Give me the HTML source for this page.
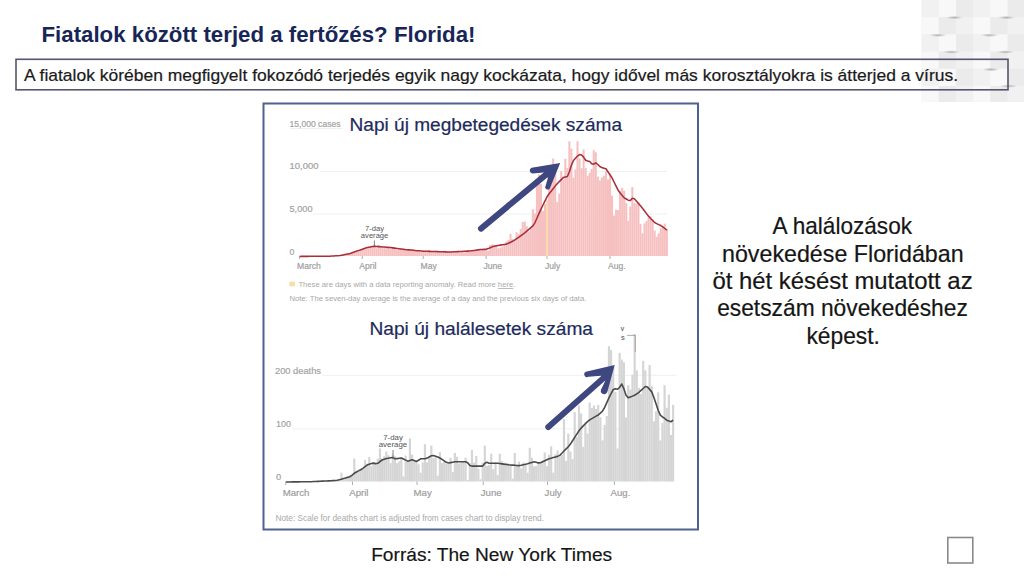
<!DOCTYPE html>
<html><head><meta charset="utf-8">
<style>
html,body{margin:0;padding:0;background:#fff;}
body{width:1024px;height:576px;position:relative;overflow:hidden;}
svg{position:absolute;left:0;top:0;}
</style></head>
<body>
<svg width="1024" height="576" viewBox="0 0 1024 576" font-family="Liberation Sans, sans-serif">
<defs>
<radialGradient id="shd"><stop offset="0" stop-color="#a8a8a8" stop-opacity="0.95"/><stop offset="0.6" stop-color="#c0c0c0" stop-opacity="0.5"/><stop offset="1" stop-color="#d0d0d0" stop-opacity="0"/></radialGradient>
</defs>
<!-- top-right pattern -->
<g id="pattern">
<rect x="921.6" y="0" width="102.39999999999998" height="101.8" fill="#f0f0f0"/>
<rect x="921.6" y="0.0" width="17.25" height="17.20" fill="#f1f1f1"/>
<rect x="938.8" y="0.0" width="17.25" height="17.20" fill="#f8f8f8"/>
<rect x="956.0" y="0.0" width="17.25" height="17.20" fill="#ebebeb"/>
<rect x="973.2" y="0.0" width="17.25" height="17.20" fill="#f1f1f1"/>
<rect x="990.4" y="0.0" width="17.25" height="17.20" fill="#f8f8f8"/>
<rect x="1007.6" y="0.0" width="17.25" height="17.20" fill="#ebebeb"/>
<rect x="921.6" y="17.2" width="17.25" height="17.20" fill="#f8f8f8"/>
<rect x="938.8" y="17.2" width="17.25" height="17.20" fill="#ebebeb"/>
<rect x="956.0" y="17.2" width="17.25" height="17.20" fill="#f1f1f1"/>
<rect x="973.2" y="17.2" width="17.25" height="17.20" fill="#f8f8f8"/>
<rect x="990.4" y="17.2" width="17.25" height="17.20" fill="#ebebeb"/>
<rect x="1007.6" y="17.2" width="17.25" height="17.20" fill="#f1f1f1"/>
<rect x="921.6" y="34.4" width="17.25" height="17.20" fill="#f1f1f1"/>
<rect x="938.8" y="34.4" width="17.25" height="17.20" fill="#f8f8f8"/>
<rect x="956.0" y="34.4" width="17.25" height="17.20" fill="#ebebeb"/>
<rect x="973.2" y="34.4" width="17.25" height="17.20" fill="#f1f1f1"/>
<rect x="990.4" y="34.4" width="17.25" height="17.20" fill="#f8f8f8"/>
<rect x="1007.6" y="34.4" width="17.25" height="17.20" fill="#ebebeb"/>
<rect x="921.6" y="51.6" width="17.25" height="17.20" fill="#f8f8f8"/>
<rect x="938.8" y="51.6" width="17.25" height="17.20" fill="#ebebeb"/>
<rect x="956.0" y="51.6" width="17.25" height="17.20" fill="#f1f1f1"/>
<rect x="973.2" y="51.6" width="17.25" height="17.20" fill="#f8f8f8"/>
<rect x="990.4" y="51.6" width="17.25" height="17.20" fill="#ebebeb"/>
<rect x="1007.6" y="51.6" width="17.25" height="17.20" fill="#f1f1f1"/>
<rect x="921.6" y="68.8" width="17.25" height="17.20" fill="#f1f1f1"/>
<rect x="938.8" y="68.8" width="17.25" height="17.20" fill="#f8f8f8"/>
<rect x="956.0" y="68.8" width="17.25" height="17.20" fill="#ebebeb"/>
<rect x="973.2" y="68.8" width="17.25" height="17.20" fill="#f1f1f1"/>
<rect x="990.4" y="68.8" width="17.25" height="17.20" fill="#f8f8f8"/>
<rect x="1007.6" y="68.8" width="17.25" height="17.20" fill="#ebebeb"/>
<rect x="921.6" y="86.0" width="17.25" height="15.80" fill="#f8f8f8"/>
<rect x="938.8" y="86.0" width="17.25" height="15.80" fill="#ebebeb"/>
<rect x="956.0" y="86.0" width="17.25" height="15.80" fill="#f1f1f1"/>
<rect x="973.2" y="86.0" width="17.25" height="15.80" fill="#f8f8f8"/>
<rect x="990.4" y="86.0" width="17.25" height="15.80" fill="#ebebeb"/>
<rect x="1007.6" y="86.0" width="17.25" height="15.80" fill="#f1f1f1"/>
<ellipse cx="954.5" cy="17.6" rx="9" ry="1.8" fill="url(#shd)"/>
<ellipse cx="1006.5" cy="17.6" rx="9" ry="1.8" fill="url(#shd)"/>
<ellipse cx="938" cy="35.2" rx="9" ry="1.8" fill="url(#shd)"/>
<ellipse cx="989.5" cy="35.2" rx="9" ry="1.8" fill="url(#shd)"/>
<ellipse cx="951.3" cy="52" rx="9" ry="1.8" fill="url(#shd)"/>
<ellipse cx="1005.5" cy="52" rx="9" ry="1.8" fill="url(#shd)"/>
<ellipse cx="991" cy="69.5" rx="9" ry="1.8" fill="url(#shd)"/>
<ellipse cx="1008.6" cy="86.1" rx="9" ry="1.8" fill="url(#shd)"/>
</g>
<!-- title -->
<text x="41.5" y="42" font-size="22" font-weight="bold" fill="#172657" textLength="434" lengthAdjust="spacingAndGlyphs">Fiatalok között terjed a fertőzés? Florida!</text>
<!-- subtitle box -->
<rect x="16" y="59.3" width="992" height="30.5" fill="none" stroke="#55556e" stroke-width="1.6"/>
<text x="24" y="81" font-size="17" fill="#1a1a1a" stroke="#1a1a1a" stroke-width="0.2" textLength="934" lengthAdjust="spacingAndGlyphs">A fiatalok körében megfigyelt fokozódó terjedés egyik nagy kockázata, hogy idővel más korosztályokra is átterjed a vírus.</text>

<!-- chart frame -->
<rect x="263.5" y="103.5" width="434.5" height="426" fill="#fff" stroke="#4d6290" stroke-width="2"/>

<!-- chart 1 -->
<g id="c1">
<g stroke="#ececec" stroke-width="0.8">
<line x1="319.5" y1="171.5" x2="667" y2="171.5"/>
<line x1="313.5" y1="214" x2="667" y2="214"/>
<line x1="290" y1="128.5" x2="343" y2="128.5"/>
</g>
<g font-size="8.6" fill="#a0a0a0" stroke="#a8a8a8" stroke-width="0.2">
<text x="289.5" y="126.5" textLength="51" lengthAdjust="spacingAndGlyphs">15,000 cases</text>
<text x="289.5" y="169.3" textLength="29" lengthAdjust="spacingAndGlyphs">10,000</text>
<text x="289.5" y="212" textLength="23" lengthAdjust="spacingAndGlyphs">5,000</text>
<text x="289.5" y="255" >0</text>
</g>
<rect x="334.92" y="255.84" width="2.05" height="0.16" fill="#f6c0c0"/>
<rect x="336.95" y="255.74" width="2.05" height="0.26" fill="#f6c0c0"/>
<rect x="338.98" y="255.55" width="2.05" height="0.45" fill="#f6c0c0"/>
<rect x="341.01" y="255.20" width="2.05" height="0.80" fill="#f6c0c0"/>
<rect x="343.04" y="254.64" width="2.05" height="1.36" fill="#f6c0c0"/>
<rect x="345.07" y="254.01" width="2.05" height="1.99" fill="#f6c0c0"/>
<rect x="347.10" y="253.74" width="2.05" height="2.26" fill="#f6c0c0"/>
<rect x="349.13" y="253.42" width="2.05" height="2.58" fill="#f6c0c0"/>
<rect x="351.16" y="252.45" width="2.05" height="3.55" fill="#f6c0c0"/>
<rect x="353.19" y="252.33" width="2.05" height="3.67" fill="#f6c0c0"/>
<rect x="355.22" y="251.42" width="2.05" height="4.58" fill="#f6c0c0"/>
<rect x="357.25" y="250.98" width="2.05" height="5.02" fill="#f6c0c0"/>
<rect x="359.28" y="250.05" width="2.05" height="5.95" fill="#f6c0c0"/>
<rect x="361.31" y="249.61" width="2.05" height="6.39" fill="#f6c0c0"/>
<rect x="363.34" y="248.70" width="2.05" height="7.30" fill="#f6c0c0"/>
<rect x="365.37" y="248.22" width="2.05" height="7.78" fill="#f6c0c0"/>
<rect x="367.40" y="247.14" width="2.05" height="8.86" fill="#f6c0c0"/>
<rect x="369.43" y="246.82" width="2.05" height="9.18" fill="#f6c0c0"/>
<rect x="371.46" y="246.22" width="2.05" height="9.78" fill="#f6c0c0"/>
<rect x="373.49" y="244.71" width="2.05" height="11.29" fill="#f6c0c0"/>
<rect x="375.52" y="248.26" width="2.05" height="7.74" fill="#f6c0c0"/>
<rect x="377.55" y="245.19" width="2.05" height="10.81" fill="#f6c0c0"/>
<rect x="379.58" y="247.06" width="2.05" height="8.94" fill="#f6c0c0"/>
<rect x="381.61" y="248.29" width="2.05" height="7.71" fill="#f6c0c0"/>
<rect x="383.64" y="247.28" width="2.05" height="8.72" fill="#f6c0c0"/>
<rect x="385.67" y="247.16" width="2.05" height="8.84" fill="#f6c0c0"/>
<rect x="387.70" y="246.30" width="2.05" height="9.70" fill="#f6c0c0"/>
<rect x="389.73" y="248.67" width="2.05" height="7.33" fill="#f6c0c0"/>
<rect x="391.76" y="247.66" width="2.05" height="8.34" fill="#f6c0c0"/>
<rect x="393.79" y="248.03" width="2.05" height="7.97" fill="#f6c0c0"/>
<rect x="395.82" y="249.95" width="2.05" height="6.05" fill="#f6c0c0"/>
<rect x="397.85" y="249.72" width="2.05" height="6.28" fill="#f6c0c0"/>
<rect x="399.88" y="248.45" width="2.05" height="7.55" fill="#f6c0c0"/>
<rect x="401.91" y="248.66" width="2.05" height="7.34" fill="#f6c0c0"/>
<rect x="403.94" y="248.65" width="2.05" height="7.35" fill="#f6c0c0"/>
<rect x="405.97" y="249.29" width="2.05" height="6.71" fill="#f6c0c0"/>
<rect x="408.00" y="249.59" width="2.05" height="6.41" fill="#f6c0c0"/>
<rect x="410.03" y="249.99" width="2.05" height="6.01" fill="#f6c0c0"/>
<rect x="412.06" y="249.44" width="2.05" height="6.56" fill="#f6c0c0"/>
<rect x="414.09" y="251.03" width="2.05" height="4.97" fill="#f6c0c0"/>
<rect x="416.12" y="250.75" width="2.05" height="5.25" fill="#f6c0c0"/>
<rect x="418.15" y="250.62" width="2.05" height="5.38" fill="#f6c0c0"/>
<rect x="420.18" y="251.98" width="2.05" height="4.02" fill="#f6c0c0"/>
<rect x="422.21" y="250.46" width="2.05" height="5.54" fill="#f6c0c0"/>
<rect x="424.24" y="251.72" width="2.05" height="4.28" fill="#f6c0c0"/>
<rect x="426.27" y="251.37" width="2.05" height="4.63" fill="#f6c0c0"/>
<rect x="428.30" y="250.20" width="2.05" height="5.80" fill="#f6c0c0"/>
<rect x="430.33" y="251.90" width="2.05" height="4.10" fill="#f6c0c0"/>
<rect x="432.36" y="251.80" width="2.05" height="4.20" fill="#f6c0c0"/>
<rect x="434.39" y="250.74" width="2.05" height="5.26" fill="#f6c0c0"/>
<rect x="436.42" y="252.20" width="2.05" height="3.80" fill="#f6c0c0"/>
<rect x="438.45" y="251.91" width="2.05" height="4.09" fill="#f6c0c0"/>
<rect x="440.48" y="251.49" width="2.05" height="4.51" fill="#f6c0c0"/>
<rect x="442.51" y="251.58" width="2.05" height="4.42" fill="#f6c0c0"/>
<rect x="444.54" y="251.58" width="2.05" height="4.42" fill="#f6c0c0"/>
<rect x="446.57" y="251.75" width="2.05" height="4.25" fill="#f6c0c0"/>
<rect x="448.60" y="251.34" width="2.05" height="4.66" fill="#f6c0c0"/>
<rect x="450.63" y="251.42" width="2.05" height="4.58" fill="#f6c0c0"/>
<rect x="452.66" y="251.52" width="2.05" height="4.48" fill="#f6c0c0"/>
<rect x="454.69" y="252.07" width="2.05" height="3.93" fill="#f6c0c0"/>
<rect x="456.72" y="251.99" width="2.05" height="4.01" fill="#f6c0c0"/>
<rect x="458.75" y="252.54" width="2.05" height="3.46" fill="#f6c0c0"/>
<rect x="460.78" y="251.03" width="2.05" height="4.97" fill="#f6c0c0"/>
<rect x="462.81" y="252.33" width="2.05" height="3.67" fill="#f6c0c0"/>
<rect x="464.84" y="250.70" width="2.05" height="5.30" fill="#f6c0c0"/>
<rect x="466.87" y="250.02" width="2.05" height="5.98" fill="#f6c0c0"/>
<rect x="468.90" y="251.64" width="2.05" height="4.36" fill="#f6c0c0"/>
<rect x="470.93" y="251.16" width="2.05" height="4.84" fill="#f6c0c0"/>
<rect x="472.96" y="250.76" width="2.05" height="5.24" fill="#f6c0c0"/>
<rect x="474.99" y="249.58" width="2.05" height="6.42" fill="#f6c0c0"/>
<rect x="477.02" y="250.51" width="2.05" height="5.49" fill="#f6c0c0"/>
<rect x="479.05" y="249.70" width="2.05" height="6.30" fill="#f6c0c0"/>
<rect x="481.08" y="249.89" width="2.05" height="6.11" fill="#f6c0c0"/>
<rect x="483.11" y="249.56" width="2.05" height="6.44" fill="#f6c0c0"/>
<rect x="485.14" y="250.05" width="2.05" height="5.95" fill="#f6c0c0"/>
<rect x="487.17" y="250.90" width="2.05" height="5.10" fill="#f6c0c0"/>
<rect x="489.20" y="244.95" width="2.05" height="11.05" fill="#f6c0c0"/>
<rect x="491.23" y="244.10" width="2.05" height="11.90" fill="#f6c0c0"/>
<rect x="493.26" y="244.95" width="2.05" height="11.05" fill="#f6c0c0"/>
<rect x="495.29" y="244.95" width="2.05" height="11.05" fill="#f6c0c0"/>
<rect x="497.32" y="248.35" width="2.05" height="7.65" fill="#f6c0c0"/>
<rect x="499.35" y="247.50" width="2.05" height="8.50" fill="#f6c0c0"/>
<rect x="501.38" y="246.65" width="2.05" height="9.35" fill="#f6c0c0"/>
<rect x="503.41" y="244.10" width="2.05" height="11.90" fill="#f6c0c0"/>
<rect x="505.44" y="241.55" width="2.05" height="14.45" fill="#f6c0c0"/>
<rect x="507.47" y="239.85" width="2.05" height="16.15" fill="#f6c0c0"/>
<rect x="509.50" y="233.90" width="2.05" height="22.10" fill="#f6c0c0"/>
<rect x="511.53" y="239.00" width="2.05" height="17.00" fill="#f6c0c0"/>
<rect x="513.56" y="241.12" width="2.05" height="14.88" fill="#f6c0c0"/>
<rect x="515.59" y="232.20" width="2.05" height="23.80" fill="#f6c0c0"/>
<rect x="517.62" y="233.90" width="2.05" height="22.10" fill="#f6c0c0"/>
<rect x="519.65" y="228.80" width="2.05" height="27.20" fill="#f6c0c0"/>
<rect x="521.68" y="222.00" width="2.05" height="34.00" fill="#f6c0c0"/>
<rect x="523.71" y="221.57" width="2.05" height="34.43" fill="#f6c0c0"/>
<rect x="525.74" y="226.25" width="2.05" height="29.75" fill="#f6c0c0"/>
<rect x="527.77" y="231.35" width="2.05" height="24.65" fill="#f6c0c0"/>
<rect x="529.80" y="227.95" width="2.05" height="28.05" fill="#f6c0c0"/>
<rect x="531.83" y="209.25" width="2.05" height="46.75" fill="#f6c0c0"/>
<rect x="533.86" y="213.50" width="2.05" height="42.50" fill="#f6c0c0"/>
<rect x="535.89" y="180.35" width="2.05" height="75.65" fill="#f6c0c0"/>
<rect x="537.92" y="174.40" width="2.05" height="81.60" fill="#f6c0c0"/>
<rect x="539.95" y="183.75" width="2.05" height="72.25" fill="#f6c0c0"/>
<rect x="541.98" y="210.95" width="2.05" height="45.05" fill="#f6c0c0"/>
<rect x="544.01" y="204.15" width="2.05" height="51.85" fill="#f6c0c0"/>
<rect x="546.04" y="200.21" width="2.05" height="55.79" fill="#f8dcb0"/>
<rect x="548.07" y="170.07" width="2.05" height="85.93" fill="#f6c0c0"/>
<rect x="550.10" y="175.35" width="2.05" height="80.65" fill="#f6c0c0"/>
<rect x="552.13" y="158.61" width="2.05" height="97.39" fill="#f6c0c0"/>
<rect x="554.16" y="170.50" width="2.05" height="85.50" fill="#f6c0c0"/>
<rect x="556.19" y="202.14" width="2.05" height="53.86" fill="#f6c0c0"/>
<rect x="558.22" y="193.55" width="2.05" height="62.45" fill="#f6c0c0"/>
<rect x="560.25" y="171.09" width="2.05" height="84.91" fill="#f6c0c0"/>
<rect x="562.28" y="180.05" width="2.05" height="75.95" fill="#f6c0c0"/>
<rect x="564.31" y="158.82" width="2.05" height="97.18" fill="#f6c0c0"/>
<rect x="566.34" y="167.94" width="2.05" height="88.06" fill="#f6c0c0"/>
<rect x="568.37" y="141.25" width="2.05" height="114.75" fill="#f6c0c0"/>
<rect x="570.40" y="148.70" width="2.05" height="107.30" fill="#f6c0c0"/>
<rect x="572.43" y="177.85" width="2.05" height="78.15" fill="#f6c0c0"/>
<rect x="574.46" y="169.46" width="2.05" height="86.54" fill="#f6c0c0"/>
<rect x="576.49" y="141.25" width="2.05" height="114.75" fill="#f6c0c0"/>
<rect x="578.52" y="158.54" width="2.05" height="97.46" fill="#f6c0c0"/>
<rect x="580.55" y="168.21" width="2.05" height="87.79" fill="#f6c0c0"/>
<rect x="582.58" y="149.55" width="2.05" height="106.45" fill="#f6c0c0"/>
<rect x="584.61" y="168.05" width="2.05" height="87.95" fill="#f6c0c0"/>
<rect x="586.64" y="175.76" width="2.05" height="80.24" fill="#f6c0c0"/>
<rect x="588.67" y="172.83" width="2.05" height="83.17" fill="#f6c0c0"/>
<rect x="590.70" y="168.88" width="2.05" height="87.12" fill="#f6c0c0"/>
<rect x="592.73" y="150.23" width="2.05" height="105.77" fill="#f6c0c0"/>
<rect x="594.76" y="152.31" width="2.05" height="103.69" fill="#f6c0c0"/>
<rect x="596.79" y="176.58" width="2.05" height="79.42" fill="#f6c0c0"/>
<rect x="598.82" y="180.42" width="2.05" height="75.58" fill="#f6c0c0"/>
<rect x="600.85" y="177.54" width="2.05" height="78.46" fill="#f6c0c0"/>
<rect x="602.88" y="175.71" width="2.05" height="80.29" fill="#f6c0c0"/>
<rect x="604.91" y="171.37" width="2.05" height="84.63" fill="#f6c0c0"/>
<rect x="606.94" y="179.44" width="2.05" height="76.56" fill="#f6c0c0"/>
<rect x="608.97" y="174.04" width="2.05" height="81.96" fill="#f6c0c0"/>
<rect x="611.00" y="195.62" width="2.05" height="60.38" fill="#f6c0c0"/>
<rect x="613.03" y="215.61" width="2.05" height="40.39" fill="#f6c0c0"/>
<rect x="615.06" y="209.71" width="2.05" height="46.29" fill="#f6c0c0"/>
<rect x="617.09" y="210.02" width="2.05" height="45.98" fill="#f6c0c0"/>
<rect x="619.12" y="190.97" width="2.05" height="65.03" fill="#f6c0c0"/>
<rect x="621.15" y="188.00" width="2.05" height="68.00" fill="#f6c0c0"/>
<rect x="623.18" y="190.67" width="2.05" height="65.33" fill="#f6c0c0"/>
<rect x="625.21" y="203.05" width="2.05" height="52.95" fill="#f6c0c0"/>
<rect x="627.24" y="220.68" width="2.05" height="35.32" fill="#f6c0c0"/>
<rect x="629.27" y="206.44" width="2.05" height="49.56" fill="#f6c0c0"/>
<rect x="631.30" y="187.07" width="2.05" height="68.93" fill="#f6c0c0"/>
<rect x="633.33" y="202.99" width="2.05" height="53.01" fill="#f6c0c0"/>
<rect x="635.36" y="203.74" width="2.05" height="52.26" fill="#f6c0c0"/>
<rect x="637.39" y="202.01" width="2.05" height="53.99" fill="#f6c0c0"/>
<rect x="639.42" y="223.88" width="2.05" height="32.12" fill="#f6c0c0"/>
<rect x="641.45" y="233.24" width="2.05" height="22.76" fill="#f6c0c0"/>
<rect x="643.48" y="223.38" width="2.05" height="32.62" fill="#f6c0c0"/>
<rect x="645.51" y="221.02" width="2.05" height="34.98" fill="#f6c0c0"/>
<rect x="647.54" y="217.28" width="2.05" height="38.72" fill="#f6c0c0"/>
<rect x="649.57" y="216.19" width="2.05" height="39.81" fill="#f6c0c0"/>
<rect x="651.60" y="219.36" width="2.05" height="36.64" fill="#f6c0c0"/>
<rect x="653.63" y="230.72" width="2.05" height="25.28" fill="#f6c0c0"/>
<rect x="655.66" y="236.81" width="2.05" height="19.19" fill="#f6c0c0"/>
<rect x="657.69" y="233.28" width="2.05" height="22.72" fill="#f6c0c0"/>
<rect x="659.72" y="228.21" width="2.05" height="27.79" fill="#f6c0c0"/>
<rect x="661.75" y="226.11" width="2.05" height="29.89" fill="#f6c0c0"/>
<rect x="663.78" y="223.57" width="2.05" height="32.43" fill="#f6c0c0"/>
<rect x="665.81" y="228.83" width="2.05" height="27.17" fill="#f6c0c0"/>
<path d="M299.40,256.40 L301.43,256.39 L303.46,256.37 L305.49,256.36 L307.52,256.35 L309.55,256.33 L311.58,256.32 L313.61,256.31 L315.64,256.29 L317.67,256.28 L319.70,256.27 L321.73,256.25 L323.76,256.24 L325.79,256.23 L327.82,256.21 L329.85,256.20 L331.88,256.09 L333.91,255.97 L335.94,255.84 L337.97,255.72 L340.00,255.60 L342.03,255.17 L344.06,254.75 L346.09,254.32 L348.12,253.89 L350.15,253.45 L352.18,252.74 L354.21,252.03 L356.24,251.32 L358.27,250.61 L360.30,249.90 L362.33,249.21 L364.36,248.53 L366.39,247.84 L368.42,247.23 L370.45,246.89 L372.48,246.55 L374.51,246.34 L376.54,246.49 L378.57,246.64 L380.60,246.80 L382.63,246.95 L384.66,247.10 L386.69,247.25 L388.72,247.40 L390.75,247.60 L392.78,247.87 L394.81,248.14 L396.84,248.41 L398.87,248.68 L400.90,248.95 L402.93,249.22 L404.96,249.49 L406.99,249.69 L409.02,249.88 L411.05,250.08 L413.08,250.27 L415.11,250.47 L417.14,250.66 L419.17,250.85 L421.20,251.05 L423.23,251.21 L425.26,251.27 L427.29,251.33 L429.32,251.39 L431.35,251.45 L433.38,251.51 L435.41,251.57 L437.44,251.63 L439.47,251.69 L441.50,251.75 L443.53,251.81 L445.56,251.87 L447.59,251.93 L449.62,251.99 L451.65,251.92 L453.68,251.82 L455.71,251.71 L457.74,251.61 L459.77,251.51 L461.80,251.41 L463.83,251.31 L465.86,251.21 L467.89,251.11 L469.92,251.00 L471.95,250.73 L473.98,250.44 L476.01,250.16 L478.04,249.87 L480.07,249.60 L482.10,249.48 L484.13,249.36 L486.16,249.24 L488.19,248.60 L490.22,247.72 L492.25,246.84 L494.28,246.17 L496.31,245.82 L498.34,245.48 L500.37,245.13 L502.40,244.78 L504.43,244.44 L506.46,244.09 L508.49,243.28 L510.52,242.29 L512.55,241.30 L514.58,240.18 L516.61,238.73 L518.64,237.27 L520.67,235.81 L522.70,234.35 L524.73,232.89 L526.76,231.16 L528.79,229.37 L530.82,227.59 L532.85,225.81 L534.88,222.81 L536.91,218.23 L538.94,213.65 L540.97,209.07 L543.00,204.97 L545.03,200.88 L547.06,196.79 L549.09,193.75 L551.12,191.21 L553.15,188.66 L555.18,186.11 L557.21,183.69 L559.24,181.66 L561.27,179.63 L563.30,177.60 L565.33,176.95 L567.36,176.46 L569.39,171.76 L571.42,165.13 L573.45,160.55 L575.48,158.30 L577.51,156.05 L579.54,154.54 L581.57,155.08 L583.60,157.14 L585.63,160.24 L587.66,160.95 L589.69,161.45 L591.72,163.70 L593.75,164.22 L595.78,162.85 L597.81,164.51 L599.84,166.54 L601.87,167.60 L603.90,168.19 L605.93,168.78 L607.96,171.71 L609.99,174.72 L612.02,177.85 L614.05,181.97 L616.08,186.09 L618.11,190.21 L620.14,193.00 L622.17,195.47 L624.20,197.82 L626.23,199.01 L628.26,200.20 L630.29,200.55 L632.32,198.28 L634.35,198.65 L636.38,201.05 L638.41,203.44 L640.44,205.83 L642.47,208.26 L644.50,210.94 L646.53,213.63 L648.56,216.32 L650.59,218.49 L652.62,220.52 L654.65,222.55 L656.68,223.58 L658.71,224.58 L660.74,225.57 L662.77,226.95 L664.80,228.51 L666.83,230.07" fill="none" stroke="#a82e3a" stroke-width="1.55" stroke-linejoin="round"/>
<g stroke="#999" stroke-width="0.8">
<line x1="299.4" y1="256" x2="299.4" y2="259"/>
<line x1="362.3" y1="256" x2="362.3" y2="259"/>
<line x1="423.2" y1="256" x2="423.2" y2="259"/>
<line x1="486.1" y1="256" x2="486.1" y2="259"/>
<line x1="547" y1="256" x2="547" y2="259"/>
<line x1="610" y1="256" x2="610" y2="259"/>
</g>
<g font-size="8.6" fill="#9a9a9a" stroke="#a4a4a4" stroke-width="0.2">
<text x="297" y="269">March</text>
<text x="359.3" y="269">April</text>
<text x="420.5" y="269">May</text>
<text x="483.4" y="269">June</text>
<text x="545" y="269">July</text>
<text x="608" y="269">Aug.</text>
</g>
<g font-size="7.6" fill="#555" text-anchor="middle">
<text x="374.6" y="231">7-day</text>
<text x="374.6" y="238.3">average</text>
</g>
<line x1="374.4" y1="240.5" x2="374.4" y2="246" stroke="#666" stroke-width="0.8"/>
<rect x="289.4" y="281.7" width="5.6" height="4.6" fill="#f5dfa6"/>
<text x="298.4" y="287" font-size="7.6" fill="#a8a8a8" textLength="217" lengthAdjust="spacingAndGlyphs">These are days with a data reporting anomaly. Read more <tspan text-decoration="underline">here</tspan>.</text>
<text x="289.4" y="301" font-size="7.6" fill="#a8a8a8" textLength="297" lengthAdjust="spacingAndGlyphs">Note: The seven-day average is the average of a day and the previous six days of data.</text>
</g>

<!-- chart 2 -->
<g id="c2">
<g stroke="#ececec" stroke-width="0.8">
<line x1="322" y1="375.3" x2="676" y2="375.3"/>
<line x1="292" y1="428.8" x2="676" y2="428.8"/>
</g>
<g font-size="9.4" fill="#a0a0a0" stroke="#a8a8a8" stroke-width="0.2">
<text x="275" y="373.8" textLength="46" lengthAdjust="spacingAndGlyphs">200 deaths</text>
<text x="276" y="426.6" textLength="15" lengthAdjust="spacingAndGlyphs">100</text>
<text x="276" y="480">0</text>
</g>
<rect x="318.96" y="481.27" width="2.16" height="0.23" fill="#d5d5d5"/>
<rect x="321.10" y="481.16" width="2.16" height="0.34" fill="#d5d5d5"/>
<rect x="323.24" y="481.06" width="2.16" height="0.44" fill="#d5d5d5"/>
<rect x="325.38" y="480.96" width="2.16" height="0.54" fill="#d5d5d5"/>
<rect x="327.52" y="481.06" width="2.16" height="0.44" fill="#d5d5d5"/>
<rect x="329.66" y="480.81" width="2.16" height="0.69" fill="#d5d5d5"/>
<rect x="331.80" y="480.65" width="2.16" height="0.85" fill="#d5d5d5"/>
<rect x="333.94" y="480.81" width="2.16" height="0.69" fill="#d5d5d5"/>
<rect x="336.08" y="480.45" width="2.16" height="1.05" fill="#d5d5d5"/>
<rect x="338.22" y="480.16" width="2.16" height="1.34" fill="#d5d5d5"/>
<rect x="340.36" y="472.70" width="2.16" height="8.80" fill="#d5d5d5"/>
<rect x="342.50" y="479.24" width="2.16" height="2.26" fill="#d5d5d5"/>
<rect x="344.64" y="477.82" width="2.16" height="3.68" fill="#d5d5d5"/>
<rect x="346.78" y="476.27" width="2.16" height="5.23" fill="#d5d5d5"/>
<rect x="348.92" y="475.49" width="2.16" height="6.01" fill="#d5d5d5"/>
<rect x="351.06" y="475.06" width="2.16" height="6.44" fill="#d5d5d5"/>
<rect x="353.20" y="458.60" width="2.16" height="22.90" fill="#d5d5d5"/>
<rect x="355.34" y="472.08" width="2.16" height="9.42" fill="#d5d5d5"/>
<rect x="357.48" y="471.60" width="2.16" height="9.90" fill="#d5d5d5"/>
<rect x="359.62" y="468.96" width="2.16" height="12.54" fill="#d5d5d5"/>
<rect x="361.76" y="468.64" width="2.16" height="12.86" fill="#d5d5d5"/>
<rect x="363.90" y="460.00" width="2.16" height="21.50" fill="#d5d5d5"/>
<rect x="366.04" y="463.73" width="2.16" height="17.77" fill="#d5d5d5"/>
<rect x="368.18" y="457.00" width="2.16" height="24.50" fill="#d5d5d5"/>
<rect x="370.32" y="466.00" width="2.16" height="15.50" fill="#d5d5d5"/>
<rect x="372.46" y="461.99" width="2.16" height="19.51" fill="#d5d5d5"/>
<rect x="374.60" y="462.44" width="2.16" height="19.06" fill="#d5d5d5"/>
<rect x="376.74" y="458.70" width="2.16" height="22.80" fill="#d5d5d5"/>
<rect x="378.88" y="448.40" width="2.16" height="33.10" fill="#d5d5d5"/>
<rect x="381.02" y="458.57" width="2.16" height="22.93" fill="#d5d5d5"/>
<rect x="383.16" y="456.23" width="2.16" height="25.27" fill="#d5d5d5"/>
<rect x="385.30" y="451.60" width="2.16" height="29.90" fill="#d5d5d5"/>
<rect x="387.44" y="455.23" width="2.16" height="26.27" fill="#d5d5d5"/>
<rect x="389.58" y="463.04" width="2.16" height="18.46" fill="#d5d5d5"/>
<rect x="391.72" y="454.51" width="2.16" height="26.99" fill="#d5d5d5"/>
<rect x="393.86" y="456.22" width="2.16" height="25.28" fill="#d5d5d5"/>
<rect x="396.00" y="463.15" width="2.16" height="18.35" fill="#d5d5d5"/>
<rect x="398.14" y="461.29" width="2.16" height="20.21" fill="#d5d5d5"/>
<rect x="400.28" y="458.92" width="2.16" height="22.58" fill="#d5d5d5"/>
<rect x="402.42" y="476.40" width="2.16" height="5.10" fill="#d5d5d5"/>
<rect x="404.56" y="455.64" width="2.16" height="25.86" fill="#d5d5d5"/>
<rect x="406.70" y="460.44" width="2.16" height="21.06" fill="#d5d5d5"/>
<rect x="408.84" y="438.30" width="2.16" height="43.20" fill="#d5d5d5"/>
<rect x="410.98" y="454.56" width="2.16" height="26.94" fill="#d5d5d5"/>
<rect x="413.12" y="460.31" width="2.16" height="21.19" fill="#d5d5d5"/>
<rect x="415.26" y="462.21" width="2.16" height="19.29" fill="#d5d5d5"/>
<rect x="417.40" y="464.29" width="2.16" height="17.21" fill="#d5d5d5"/>
<rect x="419.54" y="472.70" width="2.16" height="8.80" fill="#d5d5d5"/>
<rect x="421.68" y="462.44" width="2.16" height="19.06" fill="#d5d5d5"/>
<rect x="423.82" y="444.20" width="2.16" height="37.30" fill="#d5d5d5"/>
<rect x="425.96" y="462.26" width="2.16" height="19.24" fill="#d5d5d5"/>
<rect x="428.10" y="456.57" width="2.16" height="24.93" fill="#d5d5d5"/>
<rect x="430.24" y="445.60" width="2.16" height="35.90" fill="#d5d5d5"/>
<rect x="432.38" y="458.13" width="2.16" height="23.37" fill="#d5d5d5"/>
<rect x="434.52" y="457.21" width="2.16" height="24.29" fill="#d5d5d5"/>
<rect x="436.66" y="475.70" width="2.16" height="5.80" fill="#d5d5d5"/>
<rect x="438.80" y="452.11" width="2.16" height="29.39" fill="#d5d5d5"/>
<rect x="440.94" y="462.87" width="2.16" height="18.63" fill="#d5d5d5"/>
<rect x="443.08" y="461.64" width="2.16" height="19.86" fill="#d5d5d5"/>
<rect x="445.22" y="463.70" width="2.16" height="17.80" fill="#d5d5d5"/>
<rect x="447.36" y="464.07" width="2.16" height="17.43" fill="#d5d5d5"/>
<rect x="449.50" y="457.89" width="2.16" height="23.61" fill="#d5d5d5"/>
<rect x="451.64" y="472.00" width="2.16" height="9.50" fill="#d5d5d5"/>
<rect x="453.78" y="453.00" width="2.16" height="28.50" fill="#d5d5d5"/>
<rect x="455.92" y="456.75" width="2.16" height="24.75" fill="#d5d5d5"/>
<rect x="458.06" y="463.44" width="2.16" height="18.06" fill="#d5d5d5"/>
<rect x="460.20" y="462.44" width="2.16" height="19.06" fill="#d5d5d5"/>
<rect x="462.34" y="461.54" width="2.16" height="19.96" fill="#d5d5d5"/>
<rect x="464.48" y="457.64" width="2.16" height="23.86" fill="#d5d5d5"/>
<rect x="466.62" y="480.00" width="2.16" height="1.50" fill="#d5d5d5"/>
<rect x="468.76" y="463.34" width="2.16" height="18.16" fill="#d5d5d5"/>
<rect x="470.90" y="450.00" width="2.16" height="31.50" fill="#d5d5d5"/>
<rect x="473.04" y="462.52" width="2.16" height="18.98" fill="#d5d5d5"/>
<rect x="475.18" y="455.90" width="2.16" height="25.60" fill="#d5d5d5"/>
<rect x="477.32" y="468.53" width="2.16" height="12.97" fill="#d5d5d5"/>
<rect x="479.46" y="479.30" width="2.16" height="2.20" fill="#d5d5d5"/>
<rect x="481.60" y="462.65" width="2.16" height="18.85" fill="#d5d5d5"/>
<rect x="483.74" y="445.60" width="2.16" height="35.90" fill="#d5d5d5"/>
<rect x="485.88" y="465.90" width="2.16" height="15.60" fill="#d5d5d5"/>
<rect x="488.02" y="465.05" width="2.16" height="16.45" fill="#d5d5d5"/>
<rect x="490.16" y="453.70" width="2.16" height="27.80" fill="#d5d5d5"/>
<rect x="492.30" y="469.33" width="2.16" height="12.17" fill="#d5d5d5"/>
<rect x="494.44" y="462.28" width="2.16" height="19.22" fill="#d5d5d5"/>
<rect x="496.58" y="475.00" width="2.16" height="6.50" fill="#d5d5d5"/>
<rect x="498.72" y="453.70" width="2.16" height="27.80" fill="#d5d5d5"/>
<rect x="500.86" y="461.23" width="2.16" height="20.27" fill="#d5d5d5"/>
<rect x="503.00" y="464.49" width="2.16" height="17.01" fill="#d5d5d5"/>
<rect x="505.14" y="462.62" width="2.16" height="18.88" fill="#d5d5d5"/>
<rect x="507.28" y="463.33" width="2.16" height="18.17" fill="#d5d5d5"/>
<rect x="509.42" y="464.83" width="2.16" height="16.67" fill="#d5d5d5"/>
<rect x="511.56" y="478.60" width="2.16" height="2.90" fill="#d5d5d5"/>
<rect x="513.70" y="453.00" width="2.16" height="28.50" fill="#d5d5d5"/>
<rect x="515.84" y="466.03" width="2.16" height="15.47" fill="#d5d5d5"/>
<rect x="517.98" y="461.70" width="2.16" height="19.80" fill="#d5d5d5"/>
<rect x="520.12" y="468.26" width="2.16" height="13.24" fill="#d5d5d5"/>
<rect x="522.26" y="462.37" width="2.16" height="19.13" fill="#d5d5d5"/>
<rect x="524.40" y="463.72" width="2.16" height="17.78" fill="#d5d5d5"/>
<rect x="526.54" y="472.70" width="2.16" height="8.80" fill="#d5d5d5"/>
<rect x="528.68" y="447.80" width="2.16" height="33.70" fill="#d5d5d5"/>
<rect x="530.82" y="457.64" width="2.16" height="23.86" fill="#d5d5d5"/>
<rect x="532.96" y="466.31" width="2.16" height="15.19" fill="#d5d5d5"/>
<rect x="535.10" y="465.98" width="2.16" height="15.52" fill="#d5d5d5"/>
<rect x="537.24" y="462.43" width="2.16" height="19.07" fill="#d5d5d5"/>
<rect x="539.38" y="462.45" width="2.16" height="19.05" fill="#d5d5d5"/>
<rect x="541.52" y="460.58" width="2.16" height="20.92" fill="#d5d5d5"/>
<rect x="543.66" y="452.50" width="2.16" height="29.00" fill="#d5d5d5"/>
<rect x="545.80" y="466.26" width="2.16" height="15.24" fill="#d5d5d5"/>
<rect x="547.94" y="454.82" width="2.16" height="26.68" fill="#d5d5d5"/>
<rect x="550.08" y="446.30" width="2.16" height="35.20" fill="#d5d5d5"/>
<rect x="552.22" y="472.70" width="2.16" height="8.80" fill="#d5d5d5"/>
<rect x="554.36" y="454.14" width="2.16" height="27.36" fill="#d5d5d5"/>
<rect x="556.50" y="450.41" width="2.16" height="31.09" fill="#d5d5d5"/>
<rect x="558.64" y="456.51" width="2.16" height="24.99" fill="#d5d5d5"/>
<rect x="560.78" y="454.94" width="2.16" height="26.56" fill="#d5d5d5"/>
<rect x="562.92" y="418.90" width="2.16" height="62.60" fill="#d5d5d5"/>
<rect x="565.06" y="460.95" width="2.16" height="20.55" fill="#d5d5d5"/>
<rect x="567.20" y="433.70" width="2.16" height="47.80" fill="#d5d5d5"/>
<rect x="569.34" y="451.59" width="2.16" height="29.91" fill="#d5d5d5"/>
<rect x="571.48" y="459.00" width="2.16" height="22.50" fill="#d5d5d5"/>
<rect x="573.62" y="412.00" width="2.16" height="69.50" fill="#d5d5d5"/>
<rect x="575.76" y="437.02" width="2.16" height="44.48" fill="#d5d5d5"/>
<rect x="577.90" y="405.40" width="2.16" height="76.10" fill="#d5d5d5"/>
<rect x="580.04" y="413.50" width="2.16" height="68.00" fill="#d5d5d5"/>
<rect x="582.18" y="446.83" width="2.16" height="34.67" fill="#d5d5d5"/>
<rect x="584.32" y="422.32" width="2.16" height="59.18" fill="#d5d5d5"/>
<rect x="586.46" y="433.57" width="2.16" height="47.93" fill="#d5d5d5"/>
<rect x="588.60" y="402.70" width="2.16" height="78.80" fill="#d5d5d5"/>
<rect x="590.74" y="408.00" width="2.16" height="73.50" fill="#d5d5d5"/>
<rect x="592.88" y="405.46" width="2.16" height="76.04" fill="#d5d5d5"/>
<rect x="595.02" y="409.00" width="2.16" height="72.50" fill="#d5d5d5"/>
<rect x="597.16" y="404.80" width="2.16" height="76.70" fill="#d5d5d5"/>
<rect x="599.30" y="417.20" width="2.16" height="64.30" fill="#d5d5d5"/>
<rect x="601.44" y="440.40" width="2.16" height="41.10" fill="#d5d5d5"/>
<rect x="603.58" y="424.97" width="2.16" height="56.53" fill="#d5d5d5"/>
<rect x="605.72" y="416.10" width="2.16" height="65.40" fill="#d5d5d5"/>
<rect x="607.86" y="346.20" width="2.16" height="135.30" fill="#d5d5d5"/>
<rect x="610.00" y="350.00" width="2.16" height="131.50" fill="#d5d5d5"/>
<rect x="612.14" y="366.62" width="2.16" height="114.88" fill="#d5d5d5"/>
<rect x="614.28" y="391.93" width="2.16" height="89.57" fill="#d5d5d5"/>
<rect x="616.42" y="448.50" width="2.16" height="33.00" fill="#d5d5d5"/>
<rect x="618.56" y="352.90" width="2.16" height="128.60" fill="#d5d5d5"/>
<rect x="620.70" y="359.62" width="2.16" height="121.88" fill="#d5d5d5"/>
<rect x="622.84" y="362.30" width="2.16" height="119.20" fill="#d5d5d5"/>
<rect x="624.98" y="417.50" width="2.16" height="64.00" fill="#d5d5d5"/>
<rect x="627.12" y="385.20" width="2.16" height="96.30" fill="#d5d5d5"/>
<rect x="629.26" y="389.51" width="2.16" height="91.99" fill="#d5d5d5"/>
<rect x="631.40" y="374.77" width="2.16" height="106.73" fill="#d5d5d5"/>
<rect x="633.54" y="334.00" width="2.16" height="147.50" fill="#d5d5d5"/>
<rect x="635.68" y="370.40" width="2.16" height="111.10" fill="#d5d5d5"/>
<rect x="637.82" y="388.03" width="2.16" height="93.47" fill="#d5d5d5"/>
<rect x="639.96" y="393.82" width="2.16" height="87.68" fill="#d5d5d5"/>
<rect x="642.10" y="361.00" width="2.16" height="120.50" fill="#d5d5d5"/>
<rect x="644.24" y="370.40" width="2.16" height="111.10" fill="#d5d5d5"/>
<rect x="646.38" y="385.95" width="2.16" height="95.55" fill="#d5d5d5"/>
<rect x="648.52" y="365.00" width="2.16" height="116.50" fill="#d5d5d5"/>
<rect x="650.66" y="386.16" width="2.16" height="95.34" fill="#d5d5d5"/>
<rect x="652.80" y="421.50" width="2.16" height="60.00" fill="#d5d5d5"/>
<rect x="654.94" y="411.29" width="2.16" height="70.21" fill="#d5d5d5"/>
<rect x="657.08" y="392.37" width="2.16" height="89.13" fill="#d5d5d5"/>
<rect x="659.22" y="440.40" width="2.16" height="41.10" fill="#d5d5d5"/>
<rect x="661.36" y="422.80" width="2.16" height="58.70" fill="#d5d5d5"/>
<rect x="663.50" y="385.20" width="2.16" height="96.30" fill="#d5d5d5"/>
<rect x="665.64" y="407.73" width="2.16" height="73.77" fill="#d5d5d5"/>
<rect x="667.78" y="394.60" width="2.16" height="86.90" fill="#d5d5d5"/>
<rect x="669.92" y="435.00" width="2.16" height="46.50" fill="#d5d5d5"/>
<rect x="672.06" y="404.82" width="2.16" height="76.68" fill="#d5d5d5"/>
<path d="M285.80,482.00 L287.94,481.97 L290.08,481.95 L292.22,481.92 L294.36,481.90 L296.50,481.87 L298.64,481.85 L300.78,481.82 L302.92,481.80 L305.06,481.77 L307.20,481.74 L309.34,481.72 L311.48,481.68 L313.62,481.57 L315.76,481.47 L317.90,481.37 L320.04,481.27 L322.18,481.16 L324.32,481.06 L326.46,480.96 L328.60,480.86 L330.74,480.75 L332.88,480.65 L335.02,480.55 L337.16,480.21 L339.30,479.69 L341.44,479.16 L343.58,478.58 L345.72,477.95 L347.86,477.32 L350.00,476.69 L352.14,475.07 L354.28,473.30 L356.42,471.97 L358.56,470.88 L360.70,469.78 L362.84,468.30 L364.98,466.70 L367.12,465.09 L369.26,464.22 L371.40,463.52 L373.54,463.14 L375.68,463.69 L377.82,463.26 L379.96,461.53 L382.10,460.03 L384.24,459.29 L386.38,458.58 L388.52,458.20 L390.66,457.82 L392.80,457.65 L394.94,458.68 L397.08,458.66 L399.22,458.18 L401.36,458.02 L403.50,459.07 L405.64,460.11 L407.78,461.15 L409.92,460.59 L412.06,459.69 L414.20,460.56 L416.34,461.43 L418.48,460.27 L420.62,458.80 L422.76,458.80 L424.90,458.80 L427.04,458.12 L429.18,456.96 L431.32,455.79 L433.46,455.55 L435.60,456.27 L437.74,456.98 L439.88,457.99 L442.02,459.41 L444.16,460.84 L446.30,462.27 L448.44,463.05 L450.58,462.61 L452.72,462.17 L454.86,461.73 L457.00,461.70 L459.14,461.70 L461.28,461.70 L463.42,461.70 L465.56,461.70 L467.70,462.80 L469.84,465.42 L471.98,466.10 L474.12,466.10 L476.26,466.10 L478.40,466.10 L480.54,466.10 L482.68,466.10 L484.82,463.19 L486.96,462.30 L489.10,463.20 L491.24,463.20 L493.38,463.20 L495.52,463.20 L497.66,463.22 L499.80,463.53 L501.94,463.85 L504.08,464.16 L506.22,464.47 L508.36,464.75 L510.50,464.93 L512.64,465.11 L514.78,465.30 L516.92,465.48 L519.06,465.66 L521.20,465.30 L523.34,464.81 L525.48,464.31 L527.62,463.75 L529.76,463.08 L531.90,462.41 L534.04,461.75 L536.18,462.28 L538.32,462.91 L540.46,462.67 L542.60,461.69 L544.74,460.71 L546.88,459.73 L549.02,458.77 L551.16,458.16 L553.30,457.56 L555.44,456.96 L557.58,456.36 L559.72,455.37 L561.86,453.21 L564.00,451.05 L566.14,448.89 L568.28,446.73 L570.42,444.07 L572.56,440.73 L574.70,437.40 L576.84,434.07 L578.98,430.73 L581.12,428.07 L583.26,425.90 L585.40,423.74 L587.54,421.57 L589.68,419.84 L591.82,418.61 L593.96,417.39 L596.10,416.16 L598.24,414.94 L600.38,413.12 L602.52,410.98 L604.66,407.40 L606.80,402.62 L608.94,397.83 L611.08,393.63 L613.22,389.59 L615.36,388.81 L617.50,389.24 L619.64,387.32 L621.78,384.00 L623.92,388.89 L626.06,395.22 L628.20,397.85 L630.34,396.99 L632.48,396.12 L634.62,395.22 L636.76,393.81 L638.90,392.40 L641.04,390.43 L643.18,388.47 L645.32,386.50 L647.46,386.94 L649.60,389.40 L651.74,391.87 L653.88,397.42 L656.02,403.81 L658.16,410.20 L660.30,415.06 L662.44,416.76 L664.58,418.47 L666.72,420.18 L668.86,421.03 L671.00,421.76 L673.14,420.16" fill="none" stroke="#4a4a4a" stroke-width="1.6" stroke-linejoin="round"/>
<g stroke="#999" stroke-width="0.8">
<line x1="285.8" y1="481.5" x2="285.8" y2="485"/>
<line x1="352.5" y1="481.5" x2="352.5" y2="485"/>
<line x1="417" y1="481.5" x2="417" y2="485"/>
<line x1="483.3" y1="481.5" x2="483.3" y2="485"/>
<line x1="547.5" y1="481.5" x2="547.5" y2="485"/>
<line x1="614.4" y1="481.5" x2="614.4" y2="485"/>
</g>
<g font-size="9.6" fill="#9a9a9a" stroke="#a4a4a4" stroke-width="0.2">
<text x="282.7" y="496">March</text>
<text x="349.3" y="496">April</text>
<text x="413.6" y="496">May</text>
<text x="480.8" y="496">June</text>
<text x="544.6" y="496">July</text>
<text x="610.6" y="496">Aug.</text>
</g>
<g font-size="7.9" fill="#555" text-anchor="middle">
<text x="393" y="440">7-day</text>
<text x="393" y="447.4">average</text>
</g>
<line x1="393" y1="450" x2="393" y2="459" stroke="#666" stroke-width="0.8"/>
<text x="275.5" y="520.5" font-size="9.2" fill="#a8a8a8" textLength="268.5" lengthAdjust="spacingAndGlyphs">Note: Scale for deaths chart is adjusted from cases chart to display trend.</text>
<g font-size="5.6" font-weight="bold" fill="#666"><text x="620.6" y="331.2">V</text><text x="621" y="339.6">S</text></g>
<polyline points="627,335.4 635.3,335.4 635.3,352" fill="none" stroke="#8a8a8a" stroke-width="0.7"/>
</g>

<!-- chart titles -->
<text x="349.5" y="131.4" font-size="18.9" fill="#1d2b5c" stroke="#1d2b5c" stroke-width="0.2" textLength="272.5" lengthAdjust="spacingAndGlyphs">Napi új megbetegedések száma</text>
<text x="369.5" y="335" font-size="18.9" fill="#1d2b5c" stroke="#1d2b5c" stroke-width="0.2" textLength="223.5" lengthAdjust="spacingAndGlyphs">Napi új halálesetek száma</text>

<!-- arrows -->
<g fill="#3f4780">
<line x1="481" y1="228.6" x2="546" y2="174.6" stroke="#3f4780" stroke-width="6" stroke-linecap="round"/>
<path d="M560.2,163 L531.6,167.8 A2.9,2.9 0 0 0 532.6,173.4 L543.75,172.4 L547.9,177.9 L545.1,187.6 A2.9,2.9 0 0 0 549.6,189 Z"/>
<line x1="548.3" y1="427" x2="603" y2="378.5" stroke="#3f4780" stroke-width="6" stroke-linecap="round"/>
<path d="M614.7,365 L585.8,371.7 A2.9,2.9 0 0 0 588.6,376.8 L601.1,375.8 L605.3,380.7 L601,389.7 A3.2,3.2 0 0 0 607.4,391.8 Z"/>
</g>

<!-- right text -->
<g font-size="23.2" fill="#151515" stroke="#151515" stroke-width="0.2" text-anchor="middle">
<text x="842.3" y="234.3" textLength="139.5" lengthAdjust="spacingAndGlyphs">A halálozások</text>
<text x="842.8" y="262" textLength="241.6" lengthAdjust="spacingAndGlyphs">növekedése Floridában</text>
<text x="842.5" y="288.5" textLength="260.2" lengthAdjust="spacingAndGlyphs">öt hét késést mutatott az</text>
<text x="842.5" y="315.7" textLength="250.7" lengthAdjust="spacingAndGlyphs">esetszám növekedéshez</text>
<text x="843.2" y="343.6" textLength="73.5" lengthAdjust="spacingAndGlyphs">képest.</text>
</g>

<!-- source -->
<text x="371.2" y="561" font-size="19.2" fill="#151515" stroke="#151515" stroke-width="0.18" textLength="241" lengthAdjust="spacingAndGlyphs">Forrás: The New York Times</text>

<!-- small square -->
<rect x="947.8" y="537.5" width="25" height="25.5" fill="none" stroke="#8a8a8a" stroke-width="1.6"/>
</svg>
</body></html>
